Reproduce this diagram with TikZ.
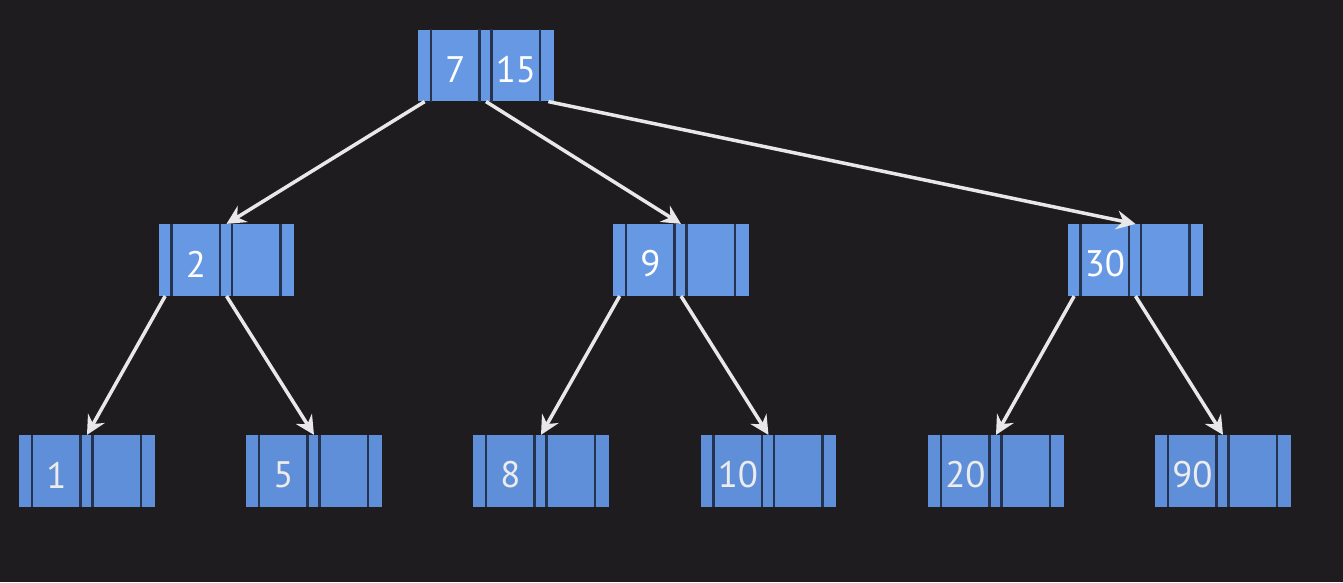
\documentclass[tikz,border=0pt]{standalone}
\usepackage{fontspec}
\newfontfamily\keyfont{PT Sans}
\usetikzlibrary{arrows.meta,calc}
\definecolor{bg}{HTML}{1E1C1F}
\definecolor{cellblue}{HTML}{6698E4}
\definecolor{leafblue}{HTML}{5F8FD9}
\definecolor{divline}{HTML}{26334F}
\definecolor{arrowgray}{HTML}{E8E8E8}
\tikzset{
	btbox/.style={fill=cellblue,draw=none,inner sep=0pt,minimum width=2.72cm,minimum height=1.43cm},
	divider/.style={draw=divline,line width=1.4pt},
	keytext/.style={text=white,font=\keyfont\fontsize{21}{25}\selectfont,inner sep=0pt},
	ptr/.style={draw=arrowgray,line width=2pt,-{Stealth[length=3.8mm,width=3.8mm,inset=1.3mm]}}
}
% one B-tree node: name, x, y, first key, second key
\newcommand{\btnode}[5]{%
	\node[btbox] (#1) at (#2,#3) {};
	\foreach \d in {13.5,62,74,122.5}
		\draw[divider] ($(#1.north west)+(\d,0)$)--($(#1.south west)+(\d,0)$);
	\node[keytext] (#1-a) at ($(#1.west)+(37.75,4)$) {#4};
	\node[keytext] (#1-b) at ($(#1.west)+(98.25,4)$) {#5};
}
\begin{document}
\begin{tikzpicture}[x=0.02cm,y=-0.02cm]
	\fill[bg] (0,0) rectangle (1343,582);
	\useasboundingbox (0,0) rectangle (1343,582);
	% root and middle level
	\btnode{root}{486}{65.5}{7}{15}
	\btnode{two}{226.5}{260}{2}{}
	\btnode{nine}{681}{260}{9}{}
	\btnode{thirty}{1135.5}{260}{30}{}
	% leaves
	\tikzset{btbox/.append style={fill=leafblue},keytext/.append style={text=white!85!gray}}
	\btnode{one}{87}{471}{1}{}
	\btnode{five}{314}{471}{5}{}
	\btnode{eight}{541}{471}{8}{}
	\btnode{ten}{768.5}{471}{10}{}
	\btnode{twenty}{996}{471}{20}{}
	\btnode{ninety}{1223}{471}{90}{}
	% pointers
	\draw[ptr] ($(root.south west)+(7,0)$)--(two.north);
	\draw[ptr] (root.south)--(nine.north);
	\draw[ptr] ($(root.south east)+(-6,0)$)--(thirty.north);
	\foreach \p/\l/\r in {two/one/five,nine/eight/ten,thirty/twenty/ninety}{
		\draw[ptr] ($(\p.south west)+(7,0)$)--(\l.north);
		\draw[ptr] (\p.south)--(\r.north);
	}
\end{tikzpicture}
\end{document}
